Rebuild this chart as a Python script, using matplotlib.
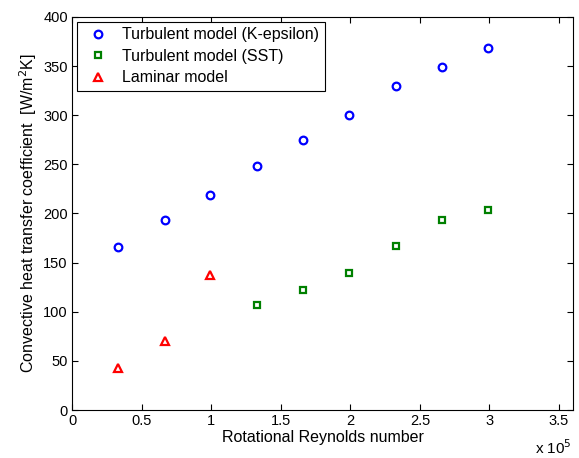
import matplotlib
matplotlib.use("Agg")
import matplotlib.pyplot as plt

# Reynolds rotazionale (x 10^5) e coefficienti [W/m2K]
re_keps = [0.33, 0.665, 0.995, 1.33, 1.66, 1.99, 2.325, 2.66, 2.99]
h_keps = [165.7, 192.9, 218.5, 248.1, 274.7, 299.9, 329.8, 349.3, 368.2]

re_sst = [1.33, 1.66, 1.99, 2.325, 2.66, 2.99]
h_sst = [107.2, 121.7, 139.5, 166.7, 192.9, 204.0]

re_lam = [0.33, 0.665, 0.995]
h_lam = [42.5, 70.5, 137.5]

plt.rcParams["font.family"] = ["Liberation Sans", "DejaVu Sans"]
plt.rcParams["font.size"] = 10.5

fig = plt.figure(figsize=(5.79, 4.58), dpi=100)
ax = fig.add_axes([0.1244, 0.1048, 0.8652, 0.8581])

ax.plot(re_keps, h_keps, "o", ls="none", ms=5.5, mfc="none", mec="#0000ff",
        mew=1.6, label="Turbulent model (K-epsilon)")
ax.plot(re_sst, h_sst, "s", ls="none", ms=5, mfc="none", mec="#008000",
        mew=1.6, label="Turbulent model (SST)")
ax.plot(re_lam, h_lam, "^", ls="none", ms=6, mfc="none", mec="#ff0000",
        mew=1.6, label="Laminar model")

ax.set_xlim(0, 3.6)
ax.set_ylim(0, 400)
ax.set_xticks([0, 0.5, 1, 1.5, 2, 2.5, 3, 3.5])
ax.set_xticklabels(["0", "0.5", "1", "1.5", "2", "2.5", "3", "3.5"])
ax.set_yticks(range(0, 401, 50))
ax.tick_params(direction="in", top=True, right=True, length=4, width=0.8,
               pad=3)
for s in ax.spines.values():
    s.set_linewidth(0.8)

ax.set_xlabel("Rotational Reynolds number", fontsize=11.5, labelpad=1)
ax.set_ylabel("Convective heat transfer coefficient  [W/m$^2$K]",
              fontsize=11.5, labelpad=3)
# moltiplicatore asse x, stile MATLAB
fig.text(535 / 579, 1 - 454 / 458, "x 10$^5$", fontsize=11, ha="left",
         va="baseline")

leg = ax.legend(loc="upper left", fancybox=False, edgecolor="black",
                framealpha=1, borderaxespad=0.3, handletextpad=0.5,
                labelspacing=0.4, borderpad=0.35, handlelength=2.0,
                fontsize=11.5)
leg.get_frame().set_linewidth(0.8)

fig.savefig("out.png", dpi=100)
plt.close(fig)
